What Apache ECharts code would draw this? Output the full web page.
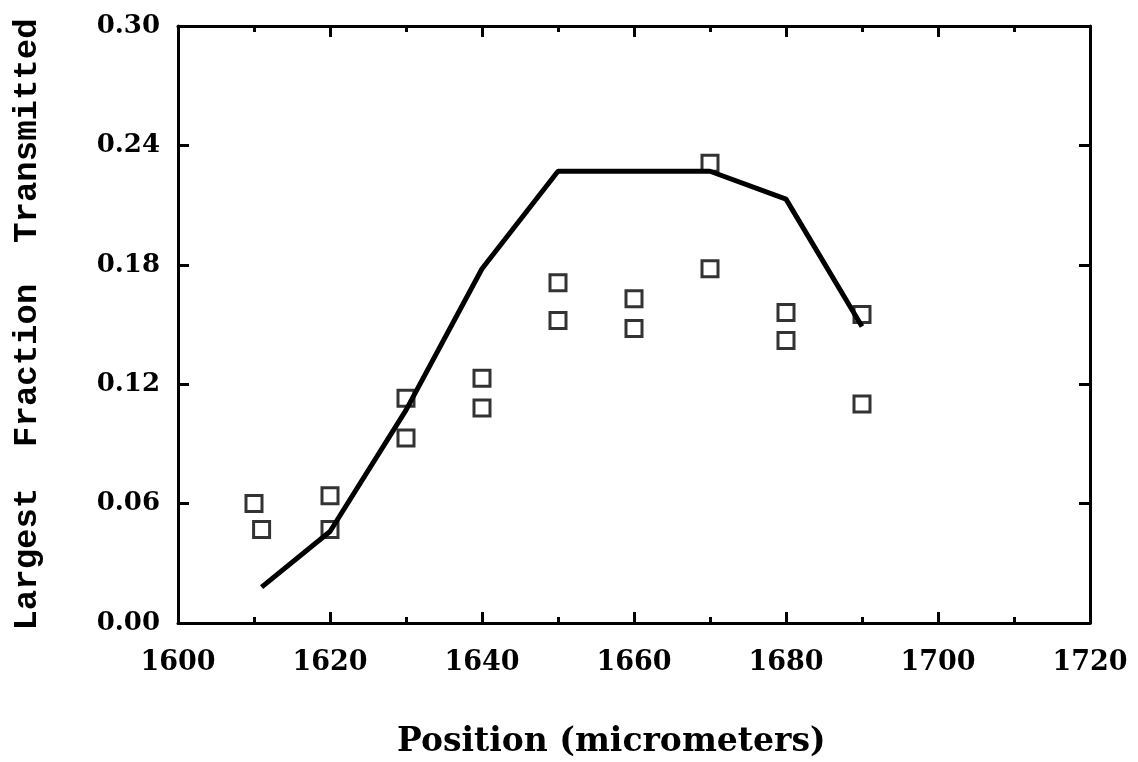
<!DOCTYPE html>
<html>
<head>
<meta charset="utf-8">
<script src="https://cdn.jsdelivr.net/npm/echarts@6/dist/echarts.min.js"></script>
<style>html,body{margin:0;padding:0;background:#fff;}#c{width:1138px;height:762px;}</style>
</head>
<body>
<div id="c"></div>
<script>
// Fitted curve (solid line)
const lineX = [1611, 1620, 1630, 1640, 1650, 1670, 1680, 1690];
const lineY = [0.018, 0.046, 0.107, 0.178, 0.227, 0.227, 0.213, 0.149];
// Measured points (open squares)
const ptsX = [1610, 1611, 1620, 1620, 1630, 1630, 1640, 1640, 1650, 1650, 1660, 1660, 1670, 1670, 1680, 1680, 1690, 1690];
const ptsY = [0.060, 0.047, 0.064, 0.047, 0.113, 0.093, 0.123, 0.108, 0.171, 0.152, 0.163, 0.148, 0.231, 0.178, 0.156, 0.142, 0.155, 0.110];
const xTicks = { min: 1600, max: 1720, interval: 20 };
const yTicks = { min: 0, max: 0.30, interval: 0.06 };
const xTitle = 'Position (micrometers)';
const yTitle = 'Largest  Fraction  Transmitted';

const chart = echarts.init(document.getElementById('c'));
const axLine = { show: true, onZero: false, lineStyle: { color: '#000', width: 3 } };
const xTick = { show: true, inside: true, length: 11, lineStyle: { color: '#000', width: 3 } };
const xMinor = { show: true, splitNumber: 2, length: 6, lineStyle: { color: '#000', width: 3 } };
const yTick = { show: true, inside: true, length: 11, lineStyle: { color: '#000', width: 3 } };

chart.setOption({
  animation: false,
  backgroundColor: '#fff',
  grid: { left: 178, right: 48, top: 26, bottom: 139, containLabel: false, outerBoundsMode: 'none' },
  xAxis: [
    {
      type: 'value', position: 'bottom', min: xTicks.min, max: xTicks.max, interval: xTicks.interval,
      axisLine: axLine, axisTick: xTick, minorTick: xMinor, splitLine: { show: false },
      axisLabel: { color: '#000', fontFamily: 'DejaVu Serif', fontWeight: 'bold', fontSize: 27, margin: 26,
        formatter: v => String(v) }
    },
    {
      type: 'value', position: 'top', min: xTicks.min, max: xTicks.max, interval: xTicks.interval,
      axisLine: axLine, axisTick: xTick, minorTick: xMinor, splitLine: { show: false },
      axisLabel: { show: false }
    }
  ],
  yAxis: [
    {
      type: 'value', position: 'left', min: yTicks.min, max: yTicks.max, interval: yTicks.interval,
      axisLine: axLine, axisTick: yTick, splitLine: { show: false },
      axisLabel: { color: '#000', fontFamily: 'DejaVu Serif', fontWeight: 'bold', fontSize: 26, margin: 18,
        formatter: v => v.toFixed(2) },
      name: yTitle, nameLocation: 'middle', nameGap: 134, nameRotate: 90,
      nameTextStyle: { color: '#000', fontFamily: 'Liberation Mono', fontWeight: 'bold', fontSize: 34 }
    },
    {
      type: 'value', position: 'right', min: yTicks.min, max: yTicks.max, interval: yTicks.interval,
      axisLine: axLine, axisTick: yTick, splitLine: { show: false }, axisLabel: { show: false }
    }
  ],
  graphic: [{
    type: 'text', left: 397, top: 726,
    style: { text: xTitle, fill: '#000', font: 'bold 33px "DejaVu Serif"' }
  }],
  series: [
    {
      type: 'line', data: lineX.map((x, i) => [x, lineY[i]]), showSymbol: false, symbol: 'none',
      lineStyle: { color: '#000', width: 5 }, z: 3
    },
    {
      type: 'scatter', data: ptsX.map((x, i) => [x, ptsY[i]]), symbol: 'rect', symbolSize: 16,
      itemStyle: { color: 'rgba(255,255,255,0)', borderColor: '#000', borderWidth: 3 }, z: 4
    }
  ]
});
</script>
</body>
</html>
